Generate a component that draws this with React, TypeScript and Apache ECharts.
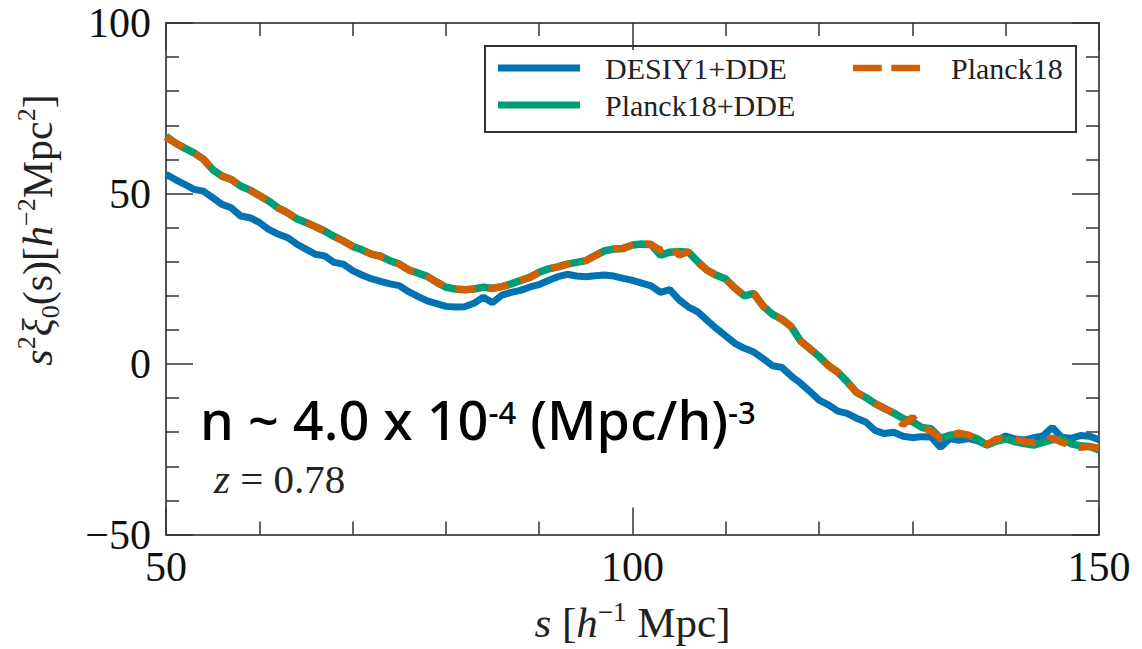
import React, { useEffect, useRef } from "react";
import * as echarts from "echarts";

// separation s [h^-1 Mpc], one bin per unit from 50 to 150
const sBins: number[] = Array.from({ length: 101 }, (_, i) => 50 + i);

const desiY1DDE: number[] = [
  55.6, 54.1, 52.7, 51.2, 50.7, 48.8, 46.8, 45.8, 43.4, 42.9,
  41.5, 39.5, 38.1, 37.1, 35.2, 33.7, 32.2, 31.7, 29.8, 29.3,
  27.4, 26.1, 25.0, 24.2, 23.5, 23.0, 21.2, 19.8, 18.5, 17.7,
  16.9, 16.7, 16.8, 17.8, 19.6, 18.0, 20.2, 21.0, 21.6, 22.6,
  23.3, 24.5, 25.6, 26.3, 25.8, 25.6, 25.9, 26.1, 25.8, 25.1,
  24.5, 23.7, 22.9, 21.0, 21.8, 18.8, 16.7, 15.3, 12.8, 10.4,
  8.2, 6.0, 4.6, 3.5, 1.6, -0.5, -1.0, -3.5, -5.6, -8.0,
  -10.6, -12.0, -13.8, -14.5, -15.9, -17.0, -19.5, -20.4, -20.0, -21.2,
  -21.6, -21.3, -21.4, -24.5, -21.9, -22.4, -21.9, -22.5, -23.8, -22.5,
  -21.1, -22.0, -22.3, -21.6, -21.1, -18.6, -21.5, -21.8, -21.0, -21.2,
  -22.2,
];

const planck18DDE: number[] = [
  66.8, 64.8, 63.3, 61.9, 60.1, 57.0, 55.1, 54.1, 52.2, 51.0,
  49.4, 47.8, 45.8, 44.4, 42.6, 41.5, 40.3, 39.0, 37.4, 36.1,
  34.5, 33.5, 32.2, 31.6, 30.3, 29.3, 27.6, 26.7, 25.7, 24.0,
  22.5, 22.0, 21.8, 22.0, 22.5, 22.2, 22.7, 23.5, 24.5, 25.4,
  26.9, 27.9, 28.5, 29.3, 29.8, 30.3, 31.8, 33.2, 33.7, 33.9,
  34.9, 35.2, 35.0, 31.9, 32.8, 33.0, 32.8, 30.0, 27.5, 26.0,
  24.9, 22.2, 20.0, 20.7, 17.0, 14.6, 13.1, 11.0, 6.8, 4.5,
  2.2, -0.5, -2.4, -5.2, -8.3, -9.8, -11.6, -13.0, -14.4, -16.0,
  -16.9, -18.6, -19.0, -21.8, -20.9, -20.6, -21.0, -22.0, -23.8, -22.6,
  -22.0, -22.8, -23.3, -23.8, -23.0, -22.2, -21.9, -23.4, -24.0, -24.2,
  -25.2,
];

const planck18: number[] = [
  66.5, 64.8, 63.3, 61.9, 60.1, 57.0, 55.1, 54.1, 52.2, 51.0,
  49.4, 47.8, 45.8, 44.4, 42.6, 41.5, 40.3, 39.0, 37.4, 36.1,
  34.5, 33.5, 32.2, 31.6, 30.3, 29.3, 27.6, 26.7, 25.7, 24.0,
  22.5, 22.0, 21.8, 22.0, 22.5, 22.2, 22.7, 23.5, 24.5, 25.4,
  26.9, 27.9, 28.5, 29.3, 29.8, 30.3, 31.8, 33.2, 33.7, 33.9,
  34.9, 35.4, 35.1, 33.3, 34.7, 31.9, 32.9, 29.8, 27.5, 26.0,
  24.9, 22.2, 20.0, 20.7, 17.0, 14.6, 13.1, 11.0, 6.8, 4.5,
  2.2, -0.5, -2.4, -5.2, -8.3, -9.8, -11.6, -13.0, -14.4, -17.8,
  -15.6, -18.5, -19.7, -22.0, -21.0, -20.2, -20.8, -22.2, -23.6, -22.0,
  -21.8, -22.1, -22.7, -23.0, -22.4, -21.7, -23.0, -23.8, -24.5, -24.2,
  -24.6,
];

const seriesNames = ["DESIY1+DDE", "Planck18+DDE", "Planck18"];
const seriesColors = ["#0173B2", "#029E73", "#D55E00"];

const xTicks = [50, 100, 150];
const yTicks = [-50, 0, 50, 100];

const SERIF = "'Liberation Serif', 'DejaVu Serif', serif";
const SANS = "'Noto Sans', 'Open Sans', sans-serif";

const pairs = (ys: number[]) => sBins.map((s, i) => [s, ys[i]]);

const tickStyle = { color: "#333", width: 1.5 };

function makeX(position: "bottom" | "top", labels: boolean) {
  return {
    type: "value",
    position,
    min: xTicks[0],
    max: xTicks[xTicks.length - 1],
    interval: 50,
    axisLine: { show: true, onZero: false, lineStyle: { color: "#555", width: 2 } },
    axisTick: { show: true, inside: true, length: 27, lineStyle: tickStyle },
    minorTick: { show: true, splitNumber: 5, length: 13, lineStyle: tickStyle },
    splitLine: { show: false },
    axisLabel: {
      show: labels,
      fontFamily: SERIF,
      fontSize: 42,
      color: "#111",
      margin: 11,
    },
  };
}

function makeY(position: "left" | "right", labels: boolean) {
  return {
    type: "value",
    position,
    min: yTicks[0],
    max: yTicks[yTicks.length - 1],
    interval: 50,
    axisLine: { show: true, onZero: false, lineStyle: { color: "#555", width: 2 } },
    axisTick: { show: true, inside: true, length: 27, lineStyle: tickStyle },
    minorTick: { show: true, splitNumber: 5, length: 13, lineStyle: tickStyle },
    splitLine: { show: false },
    axisLabel: {
      show: labels,
      fontFamily: SERIF,
      fontSize: 42,
      color: "#111",
      margin: 15,
      formatter: (v: number) => String(v).replace("-", "\u2212"),
    },
  };
}

export default function App() {
  const ref = useRef<HTMLDivElement>(null);

  useEffect(() => {
    const chart = echarts.init(ref.current!, null, { renderer: "svg" });
    const xMain: any = makeX("bottom", true);
    xMain.name = "{i|s} [{i|h}{sup|\u22121} Mpc]";
    xMain.nameLocation = "middle";
    xMain.nameGap = 64;
    xMain.nameTextStyle = {
      fontFamily: SERIF,
      fontSize: 43,
      color: "#222",
      rich: {
        i: { fontFamily: SERIF, fontStyle: "italic", fontSize: 43, color: "#222", lineHeight: 48 },
        sup: { fontFamily: SERIF, fontSize: 27, color: "#222", verticalAlign: "top", lineHeight: 48 },
      },
    };

    const legendText = { fontFamily: SERIF, fontSize: 30, color: "#222", lineHeight: 34 };

    const option: any = {
      animation: false,
      backgroundColor: "#ffffff",
      grid: { left: 166, right: 43, top: 23, bottom: 112 },
      xAxis: [xMain, makeX("top", false)],
      yAxis: [makeY("left", true), makeY("right", false)],
      legend: [
        {
          data: [
            { name: seriesNames[0], icon: "rect" },
            { name: seriesNames[1], icon: "rect" },
          ],
          orient: "vertical",
          left: 493,
          top: 46,
          itemWidth: 82,
          itemHeight: 7,
          itemGap: 3,
          textStyle: { ...legendText, padding: [0, 0, 0, 20] },
        },
        {
          data: [{ name: seriesNames[2], icon: "path://M0,0H30V7H0Z M40,0H70V7H40Z" }],
          orient: "vertical",
          left: 848,
          top: 46,
          itemWidth: 67,
          itemHeight: 7,
          textStyle: { ...legendText, padding: [0, 0, 0, 26] },
        },
      ],
      graphic: [
        {
          type: "rect",
          shape: { x: 485, y: 46, width: 591, height: 86 },
          style: { fill: "rgba(255,255,255,0.85)", stroke: "#333", lineWidth: 2 },
          z: 0,
        },
        {
          type: "text",
          x: 38,
          y: 230,
          rotation: Math.PI / 2,
          style: {
            text: "{i|s}{sup|2}{i|\u03be}{sub|0}(s)[{i|h}{sup|\u22122}Mpc{sup|2}]",
            fontFamily: SERIF,
            fontSize: 42,
            fill: "#222",
            align: "center",
            verticalAlign: "middle",
            rich: {
              i: { fontFamily: SERIF, fontStyle: "italic", fontSize: 42, fill: "#222", lineHeight: 50 },
              sup: { fontFamily: SERIF, fontSize: 26, fill: "#222", verticalAlign: "top", lineHeight: 50 },
              sub: { fontFamily: SERIF, fontSize: 26, fill: "#222", verticalAlign: "bottom", lineHeight: 50 },
            },
          },
        },
        {
          type: "text",
          x: 200,
          y: 419,
          style: {
            text: "n ~ 4.0 x 10{sup|-4} (Mpc/h){sup|-3}",
            fontFamily: SANS,
            fontWeight: 500,
            fontSize: 54,
            lineHeight: 46,
            fill: "#000",
            align: "left",
            verticalAlign: "middle",
            rich: {
              sup: { fontFamily: SANS, fontWeight: 500, fontSize: 31, fill: "#000", verticalAlign: "top", lineHeight: 46 },
            },
          },
        },
        {
          type: "text",
          x: 214,
          y: 479,
          style: {
            text: "{i|z} = 0.78",
            fontFamily: SERIF,
            fontSize: 41,
            lineHeight: 32,
            fill: "#222",
            align: "left",
            verticalAlign: "middle",
            rich: {
              i: { fontFamily: SERIF, fontStyle: "italic", fontSize: 41, fill: "#222", lineHeight: 32 },
            },
          },
        },
      ],
      series: [
        {
          name: seriesNames[0],
          type: "line",
          data: pairs(desiY1DDE),
          showSymbol: false,
          symbol: "none",
          color: seriesColors[0],
          lineStyle: { color: seriesColors[0], width: 7 },
          z: 2,
        },
        {
          name: seriesNames[1],
          type: "line",
          data: pairs(planck18DDE),
          showSymbol: false,
          symbol: "none",
          color: seriesColors[1],
          lineStyle: { color: seriesColors[1], width: 7.5 },
          z: 3,
        },
        {
          name: seriesNames[2],
          type: "line",
          data: pairs(planck18),
          showSymbol: false,
          symbol: "none",
          color: seriesColors[2],
          lineStyle: { color: seriesColors[2], width: 7, type: [20, 13], cap: "butt" },
          z: 4,
        },
      ],
    };
    chart.setOption(option);
    return () => chart.dispose();
  }, []);

  return (
    <div
      ref={ref}
      style={{ position: "absolute", left: 0, top: 0, width: 1142, height: 649, background: "#fff" }}
    />
  );
}
